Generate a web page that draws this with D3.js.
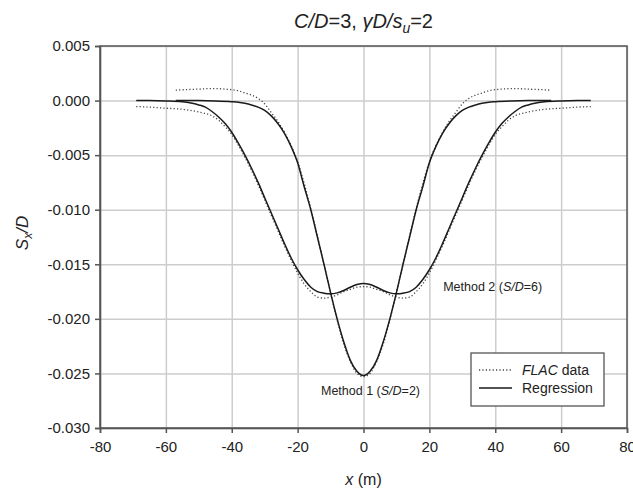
<!DOCTYPE html>
<html>
<head>
  <meta charset="utf-8">
  <script src="https://d3js.org/d3.v7.min.js"></script>
  <style>
    body { margin: 0; background: #fff; }
    svg { font-family: "Liberation Sans", Arial, sans-serif; }
  </style>
</head>
<body>
<script>
  "use strict";

  // axis ticks
  var xTicks = [-80, -60, -40, -20, 0, 20, 40, 60, 80];
  var yTicks = [0.005, 0, -0.005, -0.010, -0.015, -0.020, -0.025, -0.030];

  // Method 1 (S/D=2) regression, [x, Sx/D]
  var m1Reg = [[-57,0],[-50,0],[-45,-0.00003],[-40,-0.0001],[-38,-0.00015],[-36,-0.00025],
    [-34,-0.0004],[-32,-0.0006],[-30,-0.0009],[-28,-0.0014],[-26,-0.0021],[-24,-0.0030],
    [-22,-0.0042],[-20,-0.0057],[-18,-0.0079],[-16,-0.0100],[-14,-0.0125],[-12,-0.0150],
    [-10,-0.0176],[-8,-0.0200],[-6,-0.0221],[-4,-0.0238],[-2,-0.0248],[0,-0.0252],
    [2,-0.0248],[4,-0.0238],[6,-0.0221],[8,-0.0200],[10,-0.0176],[12,-0.0150],[14,-0.0125],
    [16,-0.0100],[18,-0.0079],[20,-0.0057],[22,-0.0042],[24,-0.0030],[26,-0.0021],
    [28,-0.0014],[30,-0.0009],[32,-0.0006],[34,-0.0004],[36,-0.00025],[38,-0.00015],
    [40,-0.0001],[45,-0.00003],[50,0],[57,0]];

  // Method 1 FLAC data
  var m1Flac = [[-57,0.00095],[-54,0.0010],[-50,0.00105],[-46,0.0011],[-42,0.00105],
    [-38,0.0009],[-36,0.0007],[-34,0.0005],[-32,0.0002],[-30,-0.0003],[-28,-0.0011],
    [-26,-0.0019],[-24,-0.0029],[-22,-0.0041],[-20,-0.0056],[-18,-0.0076],[-16,-0.0099],
    [-14,-0.0124],[-12,-0.0150],[-10,-0.0176],[-8,-0.0201],[-6,-0.0223],[-4,-0.0239],
    [-2,-0.0250],[0,-0.0253],[2,-0.0250],[4,-0.0239],[6,-0.0223],[8,-0.0201],[10,-0.0176],
    [12,-0.0150],[14,-0.0124],[16,-0.0099],[18,-0.0076],[20,-0.0056],[22,-0.0041],
    [24,-0.0029],[26,-0.0019],[28,-0.0011],[30,-0.0003],[32,0.0002],[34,0.0005],
    [36,0.0007],[38,0.0009],[42,0.00105],[46,0.0011],[50,0.00105],[54,0.0010],[57,0.00095]];

  // Method 2 (S/D=6) regression
  var m2Reg = [[-69,0],[-65,0],[-60,-0.00003],[-55,-0.0001],[-52,-0.00025],[-50,-0.0004],
    [-48,-0.0006],[-46,-0.0010],[-44,-0.0015],[-42,-0.0021],[-40,-0.0029],[-38,-0.0039],
    [-36,-0.0050],[-34,-0.0062],[-32,-0.0075],[-30,-0.0089],[-28,-0.0103],[-26,-0.0117],
    [-24,-0.0131],[-22,-0.0144],[-20,-0.0155],[-18,-0.0164],[-16,-0.0171],[-14,-0.0175],
    [-12,-0.01765],[-10,-0.0177],[-8,-0.01762],[-6,-0.0174],[-4,-0.0171],[-2,-0.01685],
    [0,-0.01675],[2,-0.01685],[4,-0.0171],[6,-0.0174],[8,-0.01762],[10,-0.0177],
    [12,-0.01765],[14,-0.0175],[16,-0.0171],[18,-0.0164],[20,-0.0155],[22,-0.0144],
    [24,-0.0131],[26,-0.0117],[28,-0.0103],[30,-0.0089],[32,-0.0075],[34,-0.0062],
    [36,-0.0050],[38,-0.0039],[40,-0.0029],[42,-0.0021],[44,-0.0015],[46,-0.0010],
    [48,-0.0006],[50,-0.0004],[52,-0.00025],[55,-0.0001],[60,-0.00003],[65,0],[69,0]];

  // Method 2 FLAC data
  var m2Flac = [[-69,-0.00055],[-65,-0.0006],[-60,-0.0007],[-55,-0.0008],[-50,-0.00105],
    [-46,-0.0014],[-44,-0.0018],[-42,-0.0024],[-40,-0.0031],[-38,-0.0041],[-36,-0.0052],
    [-34,-0.0064],[-32,-0.0077],[-30,-0.0091],[-28,-0.0105],[-26,-0.0119],[-24,-0.0133],
    [-22,-0.0146],[-20,-0.0158],[-18,-0.0168],[-16,-0.0175],[-14,-0.0180],[-12,-0.0181],
    [-10,-0.0180],[-8,-0.0178],[-6,-0.0175],[-4,-0.0173],[-2,-0.0171],[0,-0.01705],
    [2,-0.0171],[4,-0.0173],[6,-0.0175],[8,-0.0178],[10,-0.0180],[12,-0.0181],[14,-0.0180],
    [16,-0.0175],[18,-0.0168],[20,-0.0158],[22,-0.0146],[24,-0.0133],[26,-0.0119],
    [28,-0.0105],[30,-0.0091],[32,-0.0077],[34,-0.0064],[36,-0.0052],[38,-0.0041],
    [40,-0.0031],[42,-0.0024],[44,-0.0018],[46,-0.0014],[50,-0.00105],[55,-0.0008],
    [60,-0.0007],[65,-0.0006],[69,-0.00055]];

  var W = 633, H = 493;
  var pL = 100, pR = 627, pT = 46, pB = 428;

  var svg = d3.select("body").append("svg")
      .attr("width", W)
      .attr("height", H);

  var x = d3.scaleLinear().domain([-80, 80]).range([pL, pR]);
  var y = d3.scaleLinear().domain([-0.030, 0.005]).range([pB, pT]);

  // gridlines
  svg.append("g")
      .attr("transform", "translate(0," + pB + ")")
      .call(d3.axisBottom(x).tickValues(xTicks).tickSize(-(pB - pT)).tickFormat(""))
      .call(function (g) { g.select(".domain").remove(); })
      .selectAll("line").attr("stroke", "#cdcdcd").attr("stroke-width", 1.5);

  svg.append("g")
      .attr("transform", "translate(" + pL + ",0)")
      .call(d3.axisLeft(y).tickValues(yTicks).tickSize(-(pR - pL)).tickFormat(""))
      .call(function (g) { g.select(".domain").remove(); })
      .selectAll("line").attr("stroke", "#cdcdcd").attr("stroke-width", 1.5);

  // frame
  svg.append("rect")
      .attr("x", pL).attr("y", pT)
      .attr("width", pR - pL).attr("height", pB - pT)
      .attr("fill", "none").attr("stroke", "#555").attr("stroke-width", 1.5);

  // axes
  var xAxis = svg.append("g")
      .attr("transform", "translate(0," + pB + ")")
      .call(d3.axisBottom(x).tickValues(xTicks).tickSize(5).tickPadding(8)
        .tickFormat(function (d) { return String(d); }));
  var yAxis = svg.append("g")
      .attr("transform", "translate(" + pL + ",0)")
      .call(d3.axisLeft(y).tickValues(yTicks).tickSize(5).tickPadding(5)
        .tickFormat(function (d) { return d.toFixed(3); }));

  [xAxis, yAxis].forEach(function (g) {
    g.select(".domain").attr("stroke", "#555").attr("stroke-width", 1.5);
    g.selectAll("line").attr("stroke", "#555").attr("stroke-width", 1.5);
    g.selectAll("text")
      .attr("fill", "#222")
      .style("font-family", "'Liberation Sans', Arial, sans-serif")
      .style("font-size", "15px");
  });

  // curves
  var line = d3.line()
      .x(function (d) { return x(d[0]); })
      .y(function (d) { return y(d[1]); })
      .curve(d3.curveMonotoneX);

  [m1Flac, m2Flac].forEach(function (s) {
    svg.append("path").datum(s)
      .attr("d", line)
      .attr("fill", "none")
      .attr("stroke", "#444")
      .attr("stroke-width", 1.3)
      .attr("stroke-dasharray", "1.2,2.2");
  });

  [m1Reg, m2Reg].forEach(function (s) {
    svg.append("path").datum(s)
      .attr("d", line)
      .attr("fill", "none")
      .attr("stroke", "#1a1a1a")
      .attr("stroke-width", 1.5);
  });

  // annotations
  var t1 = svg.append("text")
      .attr("x", x(-12.9)).attr("y", y(-0.0270))
      .style("font-size", "12.5px").attr("fill", "#222");
  t1.append("tspan").text("Method 1 (");
  t1.append("tspan").style("font-style", "italic").text("S/D");
  t1.append("tspan").text("=2)");

  var t2 = svg.append("text")
      .attr("x", x(24.2)).attr("y", y(-0.01745))
      .style("font-size", "12.5px").attr("fill", "#222");
  t2.append("tspan").text("Method 2 (");
  t2.append("tspan").style("font-style", "italic").text("S/D");
  t2.append("tspan").text("=6)");

  // legend
  var lg = svg.append("g");
  lg.append("rect")
      .attr("x", 471).attr("y", 353).attr("width", 133).attr("height", 53)
      .attr("fill", "#fff").attr("stroke", "#555").attr("stroke-width", 1.3);
  lg.append("line")
      .attr("x1", 479).attr("x2", 512).attr("y1", 370).attr("y2", 370)
      .attr("stroke", "#444").attr("stroke-width", 1.3).attr("stroke-dasharray", "1.2,2.2");
  lg.append("line")
      .attr("x1", 479).attr("x2", 512).attr("y1", 388).attr("y2", 388)
      .attr("stroke", "#1a1a1a").attr("stroke-width", 1.5);
  var lt = lg.append("text").attr("x", 522).attr("y", 375)
      .style("font-size", "14px").attr("fill", "#222");
  lt.append("tspan").style("font-style", "italic").text("FLAC");
  lt.append("tspan").text(" data");
  lg.append("text").attr("x", 522).attr("y", 393)
      .style("font-size", "14px").attr("fill", "#222").text("Regression");

  // title
  var title = svg.append("text")
      .attr("x", (pL + pR) / 2).attr("y", 28)
      .attr("text-anchor", "middle")
      .style("font-size", "20px").attr("fill", "#222");
  title.append("tspan").style("font-style", "italic").text("C/D");
  title.append("tspan").text("=3, ");
  title.append("tspan").style("font-style", "italic").text("\u03b3D/s");
  title.append("tspan").style("font-style", "italic").style("font-size", "14px")
      .attr("dy", 5).text("u");
  title.append("tspan").attr("dy", -5).text("=2");

  // axis titles
  var xt = svg.append("text")
      .attr("x", (pL + pR) / 2).attr("y", 485)
      .attr("text-anchor", "middle")
      .style("font-size", "16px").attr("fill", "#222");
  xt.append("tspan").style("font-style", "italic").text("x");
  xt.append("tspan").text(" (m)");

  var yt = svg.append("text")
      .attr("transform", "translate(28," + ((pT + pB) / 2 - 4) + ") rotate(-90)")
      .attr("text-anchor", "middle")
      .style("font-size", "17px").attr("fill", "#222");
  yt.append("tspan").style("font-style", "italic").text("S");
  yt.append("tspan").style("font-style", "italic").style("font-size", "12px")
      .attr("dy", 4).text("x");
  yt.append("tspan").style("font-style", "italic").attr("dy", -4).text("/D");
</script>
</body>
</html>
